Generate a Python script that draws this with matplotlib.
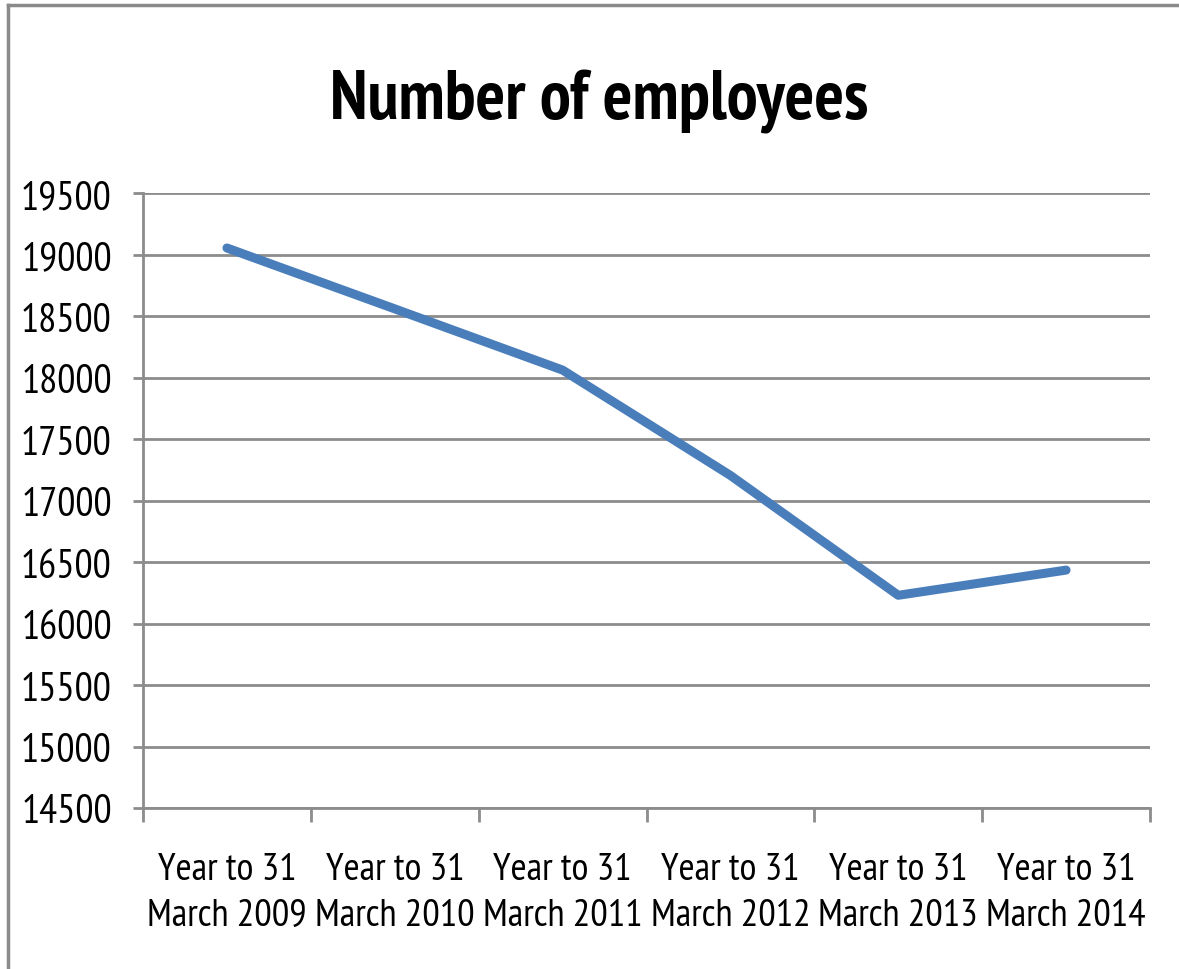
import numpy as np
import matplotlib.pyplot as plt
from matplotlib.lines import Line2D

# Headcount per financial year
years = ["Year to 31\nMarch 2009", "Year to 31\nMarch 2010", "Year to 31\nMarch 2011",
         "Year to 31\nMarch 2012", "Year to 31\nMarch 2013", "Year to 31\nMarch 2014"]
employees = [19055, 18560, 18062, 17205, 16230, 16435]
y_ticks = [14500, 15000, 15500, 16000, 16500, 17000, 17500, 18000, 18500, 19000, 19500]

plt.rcParams['font.family'] = ['PT Sans Narrow', 'Roboto Condensed', 'DejaVu Sans']

fig = plt.figure(figsize=(11.79, 9.70), dpi=100)
ax = fig.add_axes([0.1213, 0.166, 0.8541, 0.6337])

grid_col = "#8c8c8c"
x = np.arange(len(years))
ax.plot(x, employees, color="#4a7ebb", lw=6.5, solid_capstyle="round",
        solid_joinstyle="round", zorder=3)

ax.set_ylim(14500, 19500)
ax.set_yticks(y_ticks)
ax.set_yticklabels([str(v) for v in y_ticks], fontsize=29)
ax.yaxis.grid(True, color=grid_col, lw=2)
ax.set_axisbelow(True)

# category labels sit between the tick marks
ax.set_xlim(-0.5, len(years) - 0.5)
ax.set_xticks(np.arange(-0.5, len(years), 1.0))
ax.set_xticklabels([])
ax.set_xticks(x, minor=True)
ax.set_xticklabels(years, minor=True, fontsize=28, linespacing=1.38)
ax.tick_params(axis="x", which="minor", length=0, pad=32)
ax.tick_params(axis="x", which="major", length=10, width=2, color=grid_col, direction="out")
ax.tick_params(axis="y", length=7.5, width=2, color=grid_col, pad=15)

for side in ["top", "right"]:
    ax.spines[side].set_visible(False)
for side in ["left", "bottom"]:
    ax.spines[side].set_color(grid_col)
    ax.spines[side].set_linewidth(2)

fig.text(0.508, 0.877, "Number of employees", ha="center", va="baseline",
         fontsize=50, fontweight="bold")

# chart frame along the top and left edges
fig.add_artist(Line2D([0.007, 1.0], [0.9935, 0.9935], color="#8a8a8a", lw=2.5))
fig.add_artist(Line2D([0.007, 0.007], [0.0, 0.9935], color="#8a8a8a", lw=2.5))

fig.savefig("out.png", dpi=100)
